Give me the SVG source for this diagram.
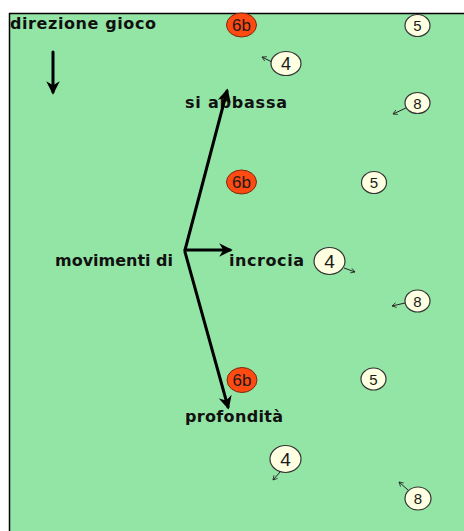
<svg xmlns="http://www.w3.org/2000/svg" width="464" height="531" viewBox="0 0 464 531">
  <style>
    .lbl { font-family: "DejaVu Sans", Verdana, sans-serif; font-weight: bold; font-size: 16px; fill: #111; }
    .num { font-family: "Liberation Sans", Arial, sans-serif; fill: #1a1a1a; text-anchor: middle; }
    .red { fill: #FF4A12; stroke: #7a2a10; stroke-width: 1; }
    .pl { fill: #FFFFE2; stroke: #333; stroke-width: 1.2; }
    .big { stroke: #000; stroke-width: 3; fill: none; stroke-linecap: round; }
    .thin { stroke: #222; stroke-width: 1; fill: none; }
  </style>
  <defs>
    <marker id="head" viewBox="0 0 10 10" refX="8" refY="5" markerWidth="4.5" markerHeight="4.5" orient="auto" markerUnits="strokeWidth">
      <path d="M0,0 L10,5 L0,10 L3,5 Z" fill="#000"/>
    </marker>
    <marker id="open" viewBox="0 0 10 10" refX="9" refY="5" markerWidth="6" markerHeight="6" orient="auto" markerUnits="userSpaceOnUse">
      <polyline points="2,1 9,5 2,9" fill="none" stroke="#222" stroke-width="1.3"/>
    </marker>
  </defs>

  <!-- pitch -->
  <rect x="9" y="13" width="460" height="525" fill="#93E5A5"/>
  <line x1="9" y1="13.5" x2="464" y2="13.5" stroke="#000" stroke-width="1.5"/>
  <line x1="9.5" y1="13" x2="9.5" y2="531" stroke="#000" stroke-width="1.5"/>

  <!-- labels -->
  <g id="labels">
    <text class="lbl" x="10" y="29" textLength="146" lengthAdjust="spacing">direzione gioco</text>
    <text class="lbl" x="185" y="108" textLength="102" lengthAdjust="spacing">si abbassa</text>
    <text class="lbl" x="55" y="266" textLength="118" lengthAdjust="spacing">movimenti di</text>
    <text class="lbl" x="229" y="266" textLength="75" lengthAdjust="spacing">incrocia</text>
    <text class="lbl" x="185" y="422" textLength="98" lengthAdjust="spacing">profondità</text>
  </g>

  <!-- connectors -->
  <g id="connectors">
    <line class="big" x1="53" y1="52" x2="53" y2="92" marker-end="url(#head)"/>
    <line class="big" x1="185" y1="250" x2="227" y2="91" marker-end="url(#head)"/>
    <line class="big" x1="185" y1="250" x2="230" y2="250" marker-end="url(#head)"/>
    <line class="big" x1="185" y1="252" x2="228" y2="407" marker-end="url(#head)"/>

    <line class="thin" x1="272" y1="62" x2="262" y2="57" marker-end="url(#open)"/>
    <line class="thin" x1="406" y1="108" x2="393" y2="114" marker-end="url(#open)"/>
    <line class="thin" x1="344" y1="268" x2="355" y2="272" marker-end="url(#open)"/>
    <line class="thin" x1="405" y1="303" x2="392" y2="306" marker-end="url(#open)"/>
    <line class="thin" x1="280" y1="472" x2="273" y2="480" marker-end="url(#open)"/>
    <line class="thin" x1="408" y1="490" x2="399" y2="482" marker-end="url(#open)"/>
  </g>

  <!-- players 6b -->
  <g id="p6b-top">
    <ellipse class="red" cx="241.5" cy="25" rx="15" ry="12"/>
    <text class="num" x="241.5" y="31" font-size="17">6b</text>
  </g>
  <g id="p6b-mid">
    <ellipse class="red" cx="241.5" cy="182" rx="15" ry="12"/>
    <text class="num" x="241.5" y="188" font-size="17">6b</text>
  </g>
  <g id="p6b-bot">
    <ellipse class="red" cx="242" cy="380" rx="15" ry="12.5"/>
    <text class="num" x="242" y="386" font-size="17">6b</text>
  </g>

  <!-- players 5 -->
  <g id="p5-top">
    <ellipse class="pl" cx="417.5" cy="25.5" rx="12.5" ry="11"/>
    <text class="num" x="417.5" y="31" font-size="15">5</text>
  </g>
  <g id="p5-mid">
    <ellipse class="pl" cx="374" cy="182.5" rx="12.5" ry="11"/>
    <text class="num" x="374" y="188" font-size="15">5</text>
  </g>
  <g id="p5-bot">
    <ellipse class="pl" cx="373.5" cy="379" rx="12.5" ry="11"/>
    <text class="num" x="373.5" y="384.5" font-size="15">5</text>
  </g>

  <!-- players 4 -->
  <g id="p4-top">
    <ellipse class="pl" cx="286" cy="63.5" rx="15" ry="12"/>
    <text class="num" x="286" y="70" font-size="18">4</text>
  </g>
  <g id="p4-mid">
    <ellipse class="pl" cx="329.5" cy="261" rx="15.5" ry="13.5"/>
    <text class="num" x="329.5" y="268" font-size="19">4</text>
  </g>
  <g id="p4-bot">
    <ellipse class="pl" cx="285.5" cy="459" rx="15.5" ry="13.5"/>
    <text class="num" x="285.5" y="466" font-size="19">4</text>
  </g>

  <!-- players 8 -->
  <g id="p8-top">
    <ellipse class="pl" cx="417.5" cy="103" rx="12.5" ry="10.5"/>
    <text class="num" x="417.5" y="108.5" font-size="15">8</text>
  </g>
  <g id="p8-mid">
    <ellipse class="pl" cx="417.5" cy="301" rx="12.5" ry="11"/>
    <text class="num" x="417.5" y="306.5" font-size="15">8</text>
  </g>
  <g id="p8-bot">
    <ellipse class="pl" cx="418" cy="498.5" rx="13" ry="11.5"/>
    <text class="num" x="418" y="504" font-size="15">8</text>
  </g>
</svg>
